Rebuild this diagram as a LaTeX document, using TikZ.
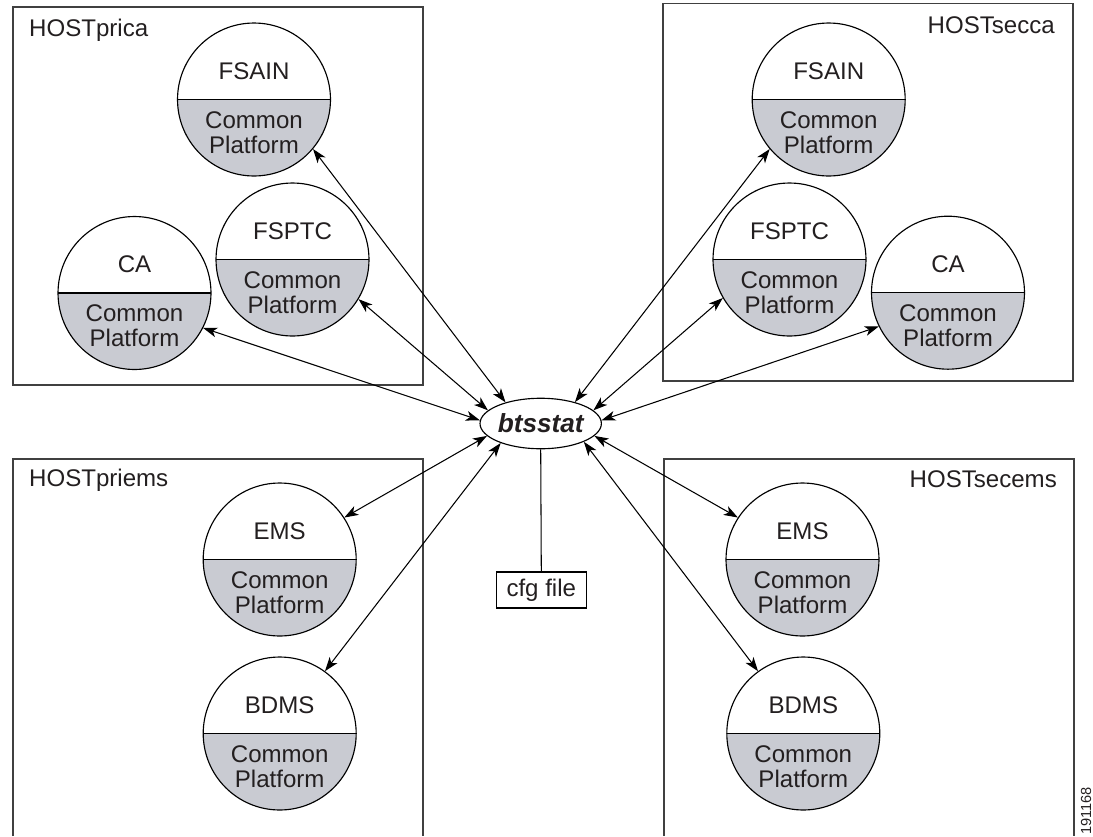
\documentclass[tikz,border=0pt]{standalone}
\usepackage{fontspec}
\setmainfont{Liberation Sans}
\usetikzlibrary{arrows.meta,shapes.geometric}

\definecolor{cpgray}{RGB}{201,203,210}
\definecolor{inkgray}{RGB}{35,31,32}

\begin{document}
\begin{tikzpicture}[x=0.02cm, y=-0.02cm,
  every node/.style={font=\fontsize{13.7}{14.2}\selectfont, text=inkgray},
  >={Stealth[length=8pt,width=5.6pt,inset=2.2pt]},
  proc/.style={circle, draw, line width=0.65pt, minimum size=3.06cm, inner sep=0pt,
    path picture={\fill[cpgray] (path picture bounding box.west) rectangle (path picture bounding box.south east);
                  \draw[line width=0.9pt] (path picture bounding box.west) -- (path picture bounding box.east);}},
  host/.style={draw=black!75, line width=0.65pt},
  link/.style={<->, line width=0.6pt}]
  \useasboundingbox (0,0) rectangle (1093,836);
  % host frames
  \draw[host] (13,7) rectangle (423,385);
  \draw[host] (663,3.5) rectangle (1073,381);
  \draw[host] (13,836) |- (423,459) -- (423,836);
  \draw[host] (664,836) |- (1074,459) -- (1074,836);
  \node[anchor=base west] (hprica) at (23,36) {HOSTprica};
  \node[anchor=base east] (hsecca) at (1061,33) {HOSTsecca};
  \node[anchor=base west] (hpriems) at (23,486) {HOSTpriems};
  \node[anchor=base east] (hsecems) at (1063,487) {HOSTsecems};
  % processes
  \foreach \n/\x/\y/\t in {fsainL/254/99.5/FSAIN, fsptcL/292.5/259.5/FSPTC, caL/134.5/293/CA,
                           fsainR/828.7/99.5/FSAIN, fsptcR/789.5/259.5/FSPTC, caR/948/292.7/CA,
                           emsL/279.7/559.5/EMS, bdmsL/279.7/733.5/BDMS,
                           emsR/802.5/559.5/EMS, bdmsR/803.3/733.5/BDMS}{
    \node[proc] (\n) at (\x,\y) {};
    \node (\n-t) at ([yshift=0.57cm]\n.center) {\t};
    \node[align=center] (\n-b) at ([yshift=-0.66cm]\n.center) {Common\\Platform};
  }
  % status tool and its config
  \node[ellipse, draw, line width=0.65pt, minimum width=2.31cm, minimum height=1.01cm, inner sep=0pt,
        font=\fontsize{14.9}{16}\selectfont\bfseries\itshape] (bts) at (540.7,423.5) {btsstat};
  \node[draw, line width=0.65pt, minimum width=1.8cm, minimum height=0.72cm, inner sep=0pt] (cfg) at (541.3,590) {cfg file};
  \draw[line width=0.6pt] (bts.south) -- (cfg.north);
  % links
  \foreach \n/\p/\q in {fsainL/-40/149, fsptcL/-31/166, caL/-27/177, emsL/33/193, bdmsL/54/206,
                        fsainR/-140/32, fsptcR/-150/14, caR/-154/3, emsR/147/-13, bdmsR/126/-23}{
    \draw[link] (\n.\p) -- (bts.\q);
  }
  \node[rotate=90, font=\fontsize{8.3}{9}\selectfont] (figid) at (1086,811) {191168};
\end{tikzpicture}
\end{document}
